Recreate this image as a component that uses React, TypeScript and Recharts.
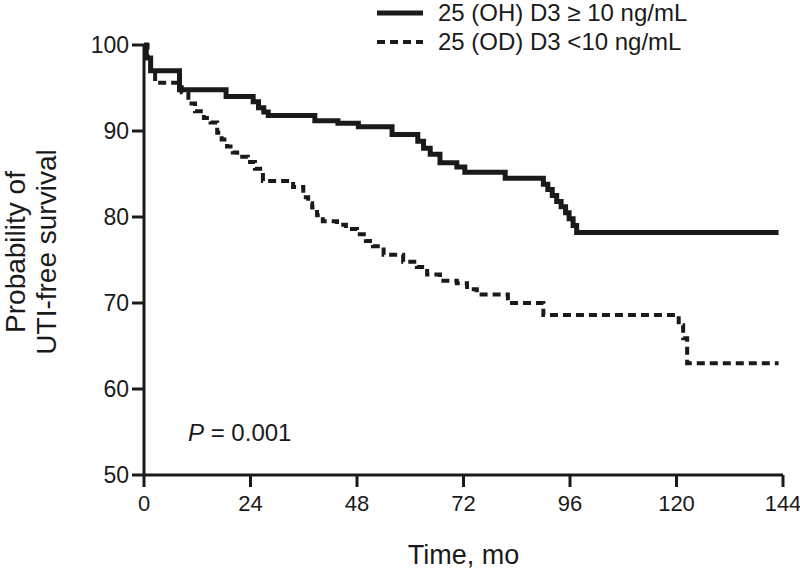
import { Label, Line, LineChart, XAxis, YAxis } from "recharts";

// Kaplan-Meier steps (months, % UTI-free)
const highTimes = [0, 0.5, 1.5, 8, 18.5, 24.6, 25.8, 27, 28, 38.5, 43.7, 48.3, 55.9, 61.7, 63, 64.5, 66.7, 70.5, 72.3, 81.4, 90, 91, 92, 93, 94, 95, 95.8, 96.7, 97.5, 143];
const highSurv = [100, 98.5, 97, 94.8, 94, 93.4, 92.7, 92.2, 91.8, 91.2, 90.9, 90.5, 89.6, 88.8, 88, 87.3, 86.3, 85.8, 85.2, 84.5, 83.8, 83.2, 82.5, 81.8, 81.2, 80.5, 79.8, 79, 78.2, 78.2];

const lowTimes = [0, 0.8, 1.5, 2.5, 8.5, 10, 11.5, 13.5, 15, 16.5, 17.5, 18.7, 20, 21, 23.4, 25, 26.8, 33.6, 35.9, 37, 37.9, 39, 40.3, 43.5, 45.5, 48, 50, 51.6, 54, 58.4, 61.5, 63.8, 66.7, 70.5, 72.8, 75, 82, 90, 120.5, 121.5, 122.4, 143];
const lowSurv = [100, 98.5, 97, 95.6, 94.5, 93.2, 92.3, 91.5, 91, 89.8, 89, 88.2, 87.5, 87, 86.4, 85.6, 84.2, 83.5, 82.3, 81.6, 81.1, 80.2, 79.5, 79.1, 78.6, 78, 77.2, 76.6, 75.6, 74.8, 74.2, 73.3, 72.6, 72.3, 71.6, 71, 70, 68.6, 67.4, 65.9, 63, 63];

const xTicks = [0, 24, 48, 72, 96, 120, 144];
const yTicks = [50, 60, 70, 80, 90, 100];

const highName = "25 (OH) D3 \u2265 10 ng/mL";
const lowName = "25 (OD) D3 <10 ng/mL";

const highData = highTimes.map((t, i) => ({ t, s: highSurv[i] }));
const lowData = lowTimes.map((t, i) => ({ t, s: lowSurv[i] }));

const FONT = "'Liberation Sans', Arial, Helvetica, sans-serif";
const INK = "#1a1a1a";

function YTitle({ viewBox }: any) {
  const cy = viewBox ? viewBox.y + viewBox.height / 2 - 8 : 252;
  return (
    <text transform={`translate(0, ${cy}) rotate(-90)`} textAnchor="middle" fontFamily={FONT} fontSize={28} fill={INK}>
      <tspan x={0} y={25}>Probability of</tspan>
      <tspan x={0} y={56}>UTI-free survival</tspan>
    </text>
  );
}

export default function App() {
  return (
    <div style={{ position: "absolute", left: 0, top: 0, width: 800, height: 574, background: "#fff" }}>
      <LineChart width={800} height={574} margin={{ top: 45, right: 17, bottom: 0, left: 0 }}>
        <XAxis
          dataKey="t"
          type="number"
          domain={[0, 144]}
          ticks={xTicks}
          allowDuplicatedCategory={false}
          height={99}
          tick={{ fill: INK, fontSize: 22, fontFamily: FONT }}
          tickSize={12}
          tickMargin={8}
          axisLine={{ stroke: INK, strokeWidth: 3 }}
          tickLine={{ stroke: INK, strokeWidth: 3 }}
        >
          <Label value="Time, mo" position="insideBottom" offset={10} fontSize={27} fontFamily={FONT} fill={INK} />
        </XAxis>
        <YAxis
          type="number"
          domain={[50, 100]}
          ticks={yTicks}
          width={144}
          tick={{ fill: INK, fontSize: 23, fontFamily: FONT }}
          tickSize={12}
          tickMargin={3}
          axisLine={{ stroke: INK, strokeWidth: 3 }}
          tickLine={{ stroke: INK, strokeWidth: 3 }}
        >
          <Label content={<YTitle />} />
        </YAxis>
        <Line
          data={highData}
          dataKey="s"
          name={highName}
          type="stepAfter"
          stroke={INK}
          strokeWidth={5}
          dot={false}
          isAnimationActive={false}
        />
        <Line
          data={lowData}
          dataKey="s"
          name={lowName}
          type="stepAfter"
          stroke={INK}
          strokeWidth={4}
          strokeDasharray="8 5"
          dot={false}
          isAnimationActive={false}
        />
        <g fontFamily={FONT} fontSize={24} fill={INK}>
          <line x1={377} x2={423} y1={13} y2={13} stroke={INK} strokeWidth={5} />
          <text x={438} y={21}>{highName}</text>
          <line x1={377} x2={423} y1={42} y2={42} stroke={INK} strokeWidth={4} strokeDasharray="8 5" />
          <text x={438} y={50}>{lowName}</text>
        </g>
        <text x={188} y={441} fontFamily={FONT} fontSize={24} fill={INK}>
          <tspan fontStyle="italic">P</tspan>
          <tspan> = 0.001</tspan>
        </text>
      </LineChart>
    </div>
  );
}
